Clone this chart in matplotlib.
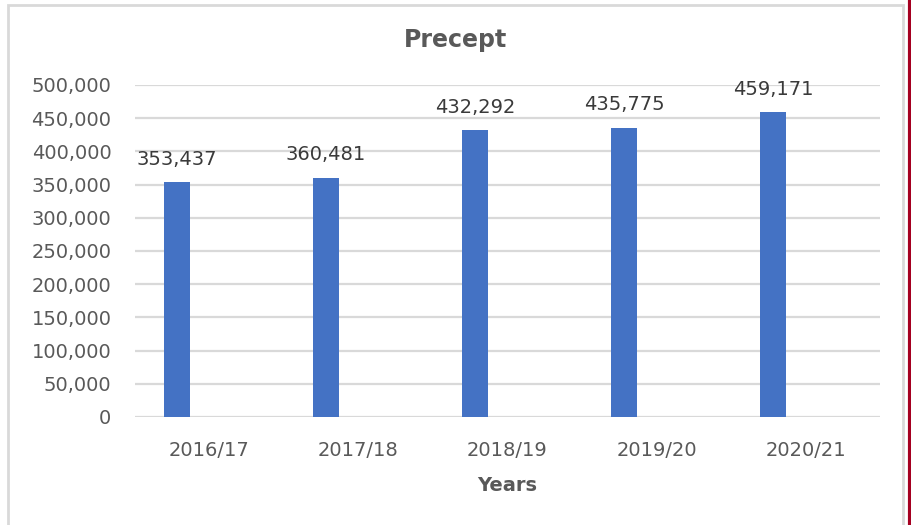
import numpy as np
import matplotlib.pyplot as plt
from matplotlib.patches import Rectangle
from matplotlib.lines import Line2D
from matplotlib.ticker import FuncFormatter

# Данные
years = ["2016/17", "2017/18", "2018/19", "2019/20", "2020/21"]
precept = [353437, 360481, 432292, 435775, 459171]

W, H = 912, 525
fig = plt.figure(figsize=(W / 100, H / 100), dpi=100)
fig.patch.set_facecolor("white")

# рамка диаграммы и красная линия справа
fig.patches.append(Rectangle((8 / W, -0.02), (903 - 8) / W, 1.02 - 5 / H,
                             transform=fig.transFigure, fill=False,
                             edgecolor="#D9D9D9", linewidth=2))
fig.lines.append(Line2D([910.5 / W, 910.5 / W], [0, 1], transform=fig.transFigure,
                        color="#A50021", linewidth=3))

ax = fig.add_axes([135 / W, 1 - 417 / H, (880 - 135) / W, (417 - 85) / H])

x = np.arange(len(years))
offset = -0.218
bars = ax.bar(x + offset, precept, width=0.175, color="#4472C4", zorder=3)

# подписи значений над столбцами
for xi, v in zip(x, precept):
    ax.annotate(f"{v:,}", (xi + offset, v), xytext=(0, 16.5), textcoords="offset points",
                ha="center", va="center", fontsize=14, color="#3A3A3A")

ax.set_xlim(-0.5, len(years) - 0.5)
ax.set_ylim(0, 500000)
ax.set_yticks(np.arange(0, 500001, 50000))
ax.yaxis.set_major_formatter(FuncFormatter(lambda v, p: f"{int(v):,}"))
ax.set_xticks(x)
ax.set_xticklabels(years)

ax.grid(axis="y", color="#D9D9D9", linewidth=1.6, zorder=0)
ax.set_axisbelow(True)
for s in ax.spines.values():
    s.set_visible(False)
ax.tick_params(axis="both", length=0, labelsize=14, labelcolor="#595959")
ax.tick_params(axis="y", pad=17)
ax.tick_params(axis="x", pad=17)

ax.set_xlabel("Years", fontsize=14, fontweight="bold", color="#595959", labelpad=12)
fig.text(456 / W, 1 - 40 / H, "Precept", ha="center", va="center",
         fontsize=17, fontweight="bold", color="#595959")

fig.savefig("out.png", dpi=100)
